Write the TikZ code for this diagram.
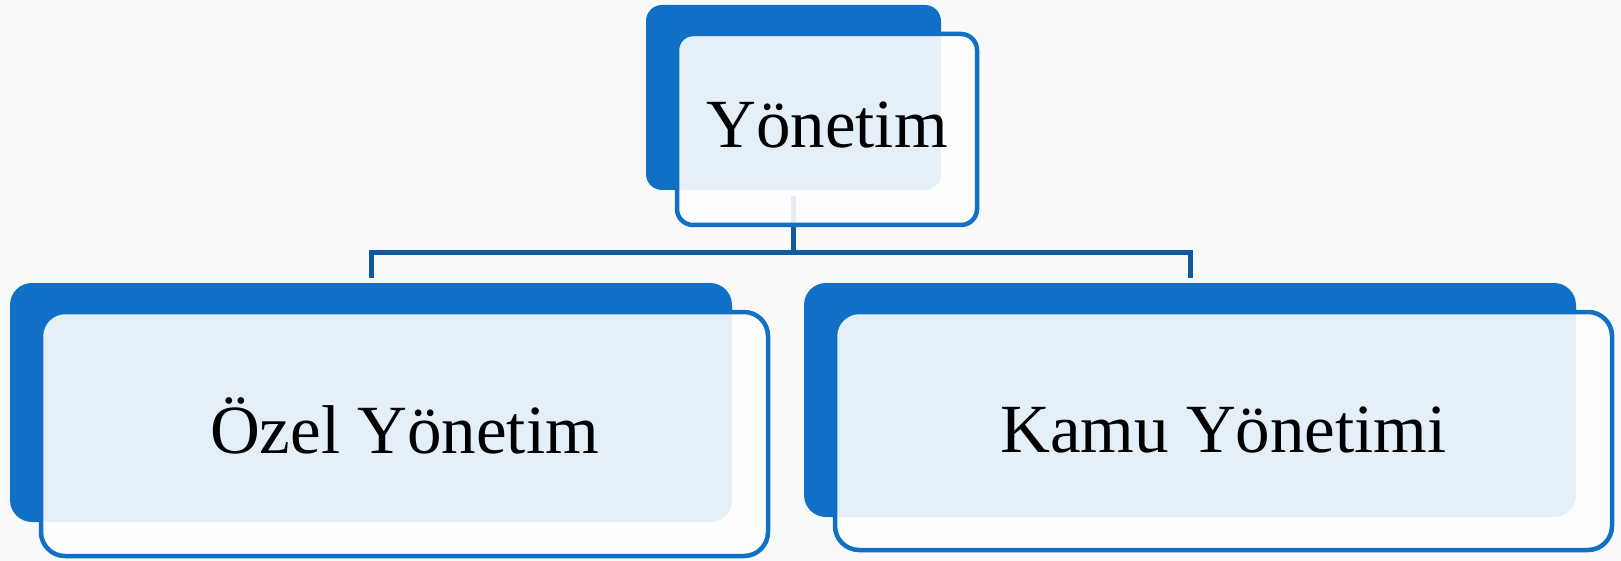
\documentclass[tikz,border=0pt]{standalone}
\usepackage{fontspec}
\setmainfont{Liberation Serif}
\definecolor{kutumavi}{RGB}{16,112,198}
\definecolor{baglanti}{RGB}{17,89,160}
\definecolor{zemin}{RGB}{249,249,249}
\begin{document}
\begin{tikzpicture}[x=1pt,y=-1pt,
arka/.style={rectangle,fill=kutumavi,inner sep=0pt,outer sep=0pt,
rounded corners=#1},
arka/.default=22pt,
on/.style={rectangle,draw=kutumavi,line width=4.5pt,fill=white,
fill opacity=0.89,inner sep=0pt,outer sep=0pt,
rounded corners=#1},
on/.default=24pt,
yazi/.style={anchor=base,inner sep=0pt,
font=\fontsize{69}{80}\selectfont},
hat/.style={draw=baglanti,line width=5pt}
]

% zemin
\fill[zemin] (0,0) rectangle (1621,561);
\useasboundingbox (0,0) rectangle (1621,561);

% arka kutular
\node[arka=16pt,minimum width=295pt,minimum height=185pt] (ustarka) at (793.5,97.5) {};
\node[arka,minimum width=722pt,minimum height=239pt] (solarka) at (371,402.5) {};
\node[arka,minimum width=772pt,minimum height=234pt] (sagarka) at (1190,400) {};

% baglantilar
\coordinate (dugum) at (793.5,253);
\draw[hat] ([yshift=-6pt]ustarka.south) -- (dugum);
\draw[hat] ([yshift=5pt]solarka.north) |- (dugum) -| ([yshift=5pt]sagarka.north);

% on kutular
\node[on=16pt,minimum width=300pt,minimum height=191pt] (ust) at (827,129.5) {};
\node[on,minimum width=727pt,minimum height=244pt] (sol) at (404.5,434) {};
\node[on,minimum width=777pt,minimum height=238pt] (sag) at (1223.5,431) {};

\node[yazi] (ustyazi) at (827,148) {Yönetim};
\node[yazi] (solyazi) at (404.5,453) {Özel Yönetim};
\node[yazi] (sagyazi) at (1223.5,452) {Kamu Yönetimi};

\end{tikzpicture}
\end{document}
